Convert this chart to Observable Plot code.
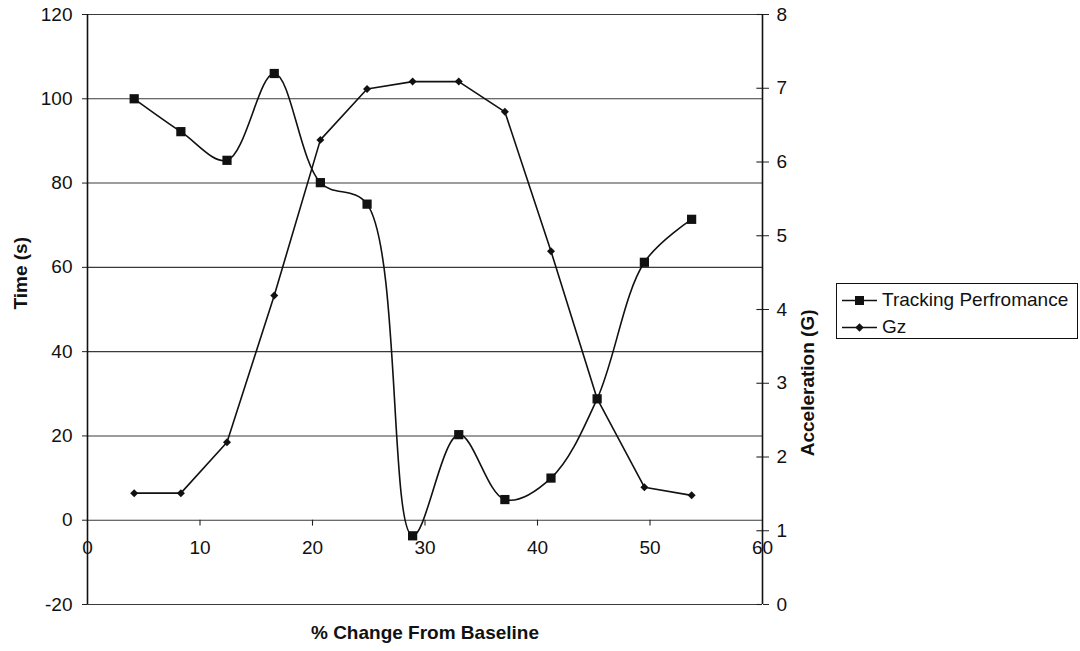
<!DOCTYPE html>
<html>
<head>
<meta charset="utf-8">
<script src="https://cdn.jsdelivr.net/npm/d3@7"></script>
<script src="https://cdn.jsdelivr.net/npm/@observablehq/plot@0.6"></script>
<style>
  html, body { margin: 0; padding: 0; background: #fff; }
  #wrap { position: relative; width: 1080px; height: 651px; font-family: "Liberation Sans", Arial, sans-serif; }
  #legend { position: absolute; left: 836px; top: 283px; width: 242px; height: 56px; border: 1px solid #111; box-sizing: border-box; background: #fff; }
  .row { position: absolute; left: 4px; height: 24px; display: flex; align-items: center; font-size: 19px; color: #111; white-space: nowrap; }
  .row svg { margin-right: 4px; }
</style>
</head>
<body>
<div id="wrap"><div id="legend"></div></div>
<script>
// ---- data ----
const pctChange = [4.15, 8.3, 12.4, 16.6, 20.7, 24.85, 28.9, 33.0, 37.1, 41.2, 45.3, 49.5, 53.7];
const trackingTime = [100, 92.2, 85.4, 106, 80.1, 75, -3.7, 20.3, 4.9, 10, 28.8, 61.2, 71.4];
const gzAccel = [1.51, 1.51, 2.2, 4.19, 6.3, 6.99, 7.09, 7.09, 6.68, 4.79, 2.79, 1.59, 1.48];
const xTicks = [0, 10, 20, 30, 40, 50, 60];
const leftTicks = [-20, 0, 20, 40, 60, 80, 100, 120];
const rightTicks = [0, 1, 2, 3, 4, 5, 6, 7, 8];
const seriesNames = ["Tracking Perfromance", "Gz"];

// map right-axis (G) values onto the left (time) scale
const leftMin = -20, leftMax = 120, rightMin = 0, rightMax = 8;
const toLeft = g => leftMin + (g - rightMin) * (leftMax - leftMin) / (rightMax - rightMin);
const toRight = t => rightMin + (t - leftMin) * (rightMax - rightMin) / (leftMax - leftMin);

const track = pctChange.map((x, i) => ({x, y: trackingTime[i]}));
const gz = pctChange.map((x, i) => ({x, y: toLeft(gzAccel[i])}));

const chart = Plot.plot({
  width: 1080,
  height: 651,
  marginLeft: 87,
  marginRight: 318,
  marginTop: 14,
  marginBottom: 47,
  style: {fontFamily: "'Liberation Sans', Arial, sans-serif", fontSize: "19px", background: "#fff", color: "#111"},
  x: {domain: [0, 60], axis: null},
  y: {domain: [leftMin, leftMax]},
  marks: [
    Plot.ruleY(leftTicks, {stroke: "#3a3a3a", strokeWidth: 1.1}),
    Plot.axisY(leftTicks, {anchor: "left", tickSize: 5, tickPadding: 10, fontSize: 19, label: null, stroke: "#222",
      tickFormat: d => String(d)}),
    Plot.axisY(rightTicks.map(toLeft), {anchor: "right", tickSize: 6, tickPadding: 8, fontSize: 19, label: null,
      tickFormat: d => String(Math.round(toRight(d))), stroke: "#222"}),
    Plot.ruleY(rightTicks.map(toLeft), {x1: 59.5, x2: 60, stroke: "#222", strokeWidth: 1.1}),
    Plot.ruleX([0, 60], {stroke: "#111", strokeWidth: 1.6}),
    Plot.ruleX(xTicks.slice(1, -1), {y1: 0, y2: -1.4, stroke: "#222", strokeWidth: 1.1}),
    Plot.text(xTicks, {x: d => d, y: 0, dy: 28, text: d => String(d), fontSize: 19, fill: "#111"}),
    Plot.line(track, {x: "x", y: "y", curve: "catmull-rom", stroke: "#111", strokeWidth: 1.6}),
    Plot.dot(track, {x: "x", y: "y", symbol: "square", r: 5.2, fill: "#111", stroke: "none"}),
    Plot.line(gz, {x: "x", y: "y", stroke: "#111", strokeWidth: 1.6}),
    Plot.dot(gz, {x: "x", y: "y", symbol: "diamond2", r: 3.6, fill: "#111", stroke: "none"}),
    Plot.text(["Time (s)"], {frameAnchor: "left", dx: -67, rotate: -90, fontSize: 19, fontWeight: "bold", fill: "#111"}),
    Plot.text(["Acceleration (G)"], {frameAnchor: "right", dx: 45, rotate: -90, fontSize: 19, fontWeight: "bold", fill: "#111"}),
    Plot.text(["% Change From Baseline"], {frameAnchor: "bottom", dy: 34, fontSize: 19, fontWeight: "bold", fill: "#111"})
  ]
});
const wrap = document.getElementById("wrap");
wrap.insertBefore(chart, wrap.firstChild);

// legend
const legend = document.getElementById("legend");
const sq = '<rect x="14" y="7" width="9" height="9" fill="#111"/>';
const dm = '<path d="M18.5 7.3 L22.7 11.5 L18.5 15.7 L14.3 11.5 Z" fill="#111"/>';
seriesNames.forEach((name, i) => {
  const row = document.createElement("div");
  row.className = "row";
  row.style.top = (i === 0 ? 4 : 31) + "px";
  row.innerHTML = '<svg width="37" height="23"><line x1="1" x2="36" y1="11.5" y2="11.5" stroke="#111" stroke-width="1.6"/>' +
    (i === 0 ? sq : dm) + '</svg><span>' + name + '</span>';
  legend.appendChild(row);
});
</script>
</body>
</html>
